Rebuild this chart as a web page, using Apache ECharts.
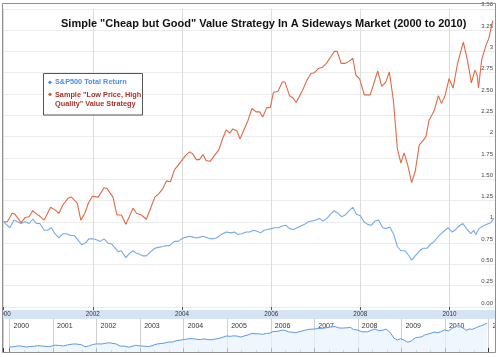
<!DOCTYPE html>
<html>
<head>
<meta charset="utf-8">
<script src="https://cdn.jsdelivr.net/npm/echarts@6/dist/echarts.min.js"></script>
<style>
html,body{margin:0;padding:0;background:#fff;}
#chart{width:499px;height:357px;}
</style>
</head>
<body>
<div id="chart"></div>
<script>
// ---- data ----
const chartTitle = 'Simple "Cheap but Good" Value Strategy In A Sideways Market (2000 to 2010)';
const seriesNames = ['S&P500 Total Return', 'Sample "Low Price, High Quality" Value Strategy'];
const legendLines = [['S&P500 Total Return'], ['Sample "Low Price, High', 'Quality" Value Strategy']];

const spDates = [2000.00,2000.14,2000.23,2000.39,2000.48,2000.57,2000.65,2000.74,2000.81,2000.91,2000.98,
  2001.07,2001.15,2001.24,2001.33,2001.41,2001.50,2001.58,2001.66,2001.75,2001.83,2001.91,
  2002.00,2002.08,2002.16,2002.25,2002.34,2002.42,2002.50,2002.57,2002.64,2002.74,2002.82,2002.90,2002.98,
  2003.05,2003.13,2003.20,2003.30,2003.39,2003.47,2003.57,2003.65,2003.72,2003.83,2003.91,
  2004.02,2004.10,2004.17,2004.25,2004.32,2004.40,2004.47,2004.58,2004.67,2004.77,2004.88,2004.99,
  2005.10,2005.18,2005.25,2005.33,2005.44,2005.52,2005.60,2005.68,2005.76,2005.84,2005.92,
  2006.00,2006.08,2006.16,2006.25,2006.33,2006.41,2006.50,2006.58,2006.66,2006.75,2006.83,2006.91,
  2007.00,2007.08,2007.16,2007.25,2007.33,2007.41,2007.50,2007.58,2007.66,2007.75,2007.83,2007.91,
  2008.00,2008.08,2008.16,2008.25,2008.33,2008.41,2008.50,2008.58,2008.66,2008.75,2008.83,2008.91,
  2009.00,2009.08,2009.15,2009.23,2009.33,2009.41,2009.50,2009.58,2009.66,2009.75,2009.83,2009.92,2009.97,
  2010.06,2010.14,2010.21,2010.30,2010.38,2010.48,2010.54,2010.59,2010.66,2010.75,2010.84,2010.92,2011.00];
const spValues = [1.00,0.93,1.02,0.98,1.00,0.98,1.03,0.98,0.98,0.90,0.90,
  0.93,0.86,0.81,0.86,0.86,0.84,0.84,0.79,0.73,0.75,0.80,
  0.80,0.79,0.77,0.80,0.75,0.74,0.69,0.65,0.66,0.58,0.63,0.66,0.63,
  0.62,0.60,0.60,0.65,0.69,0.70,0.71,0.72,0.72,0.77,0.77,
  0.81,0.82,0.83,0.82,0.81,0.82,0.83,0.81,0.80,0.81,0.85,0.88,
  0.87,0.88,0.85,0.86,0.88,0.88,0.90,0.89,0.87,0.90,0.91,
  0.92,0.93,0.93,0.95,0.96,0.92,0.91,0.93,0.95,0.97,1.00,1.01,
  1.02,1.04,1.01,1.04,1.09,1.13,1.10,1.06,1.08,1.13,1.17,1.09,
  1.07,1.00,0.97,0.96,1.01,1.02,0.93,0.92,0.94,0.85,0.71,0.66,
  0.66,0.61,0.55,0.60,0.66,0.69,0.69,0.74,0.77,0.83,0.87,0.91,0.93,
  0.88,0.91,0.95,0.98,0.92,0.86,0.90,0.85,0.92,0.95,0.97,0.99,1.04];

const strategyDates = [2000.00,2000.08,2000.19,2000.25,2000.39,2000.48,2000.57,2000.65,2000.74,2000.80,2000.91,
  2001.05,2001.15,2001.24,2001.33,2001.45,2001.52,2001.65,2001.73,2001.82,2001.90,2001.99,
  2002.12,2002.25,2002.32,2002.45,2002.54,2002.64,2002.74,2002.90,2002.98,
  2003.09,2003.20,2003.24,2003.39,2003.48,2003.57,2003.65,2003.74,2003.83,2003.98,
  2004.08,2004.17,2004.24,2004.32,2004.39,2004.47,2004.54,2004.63,2004.73,2004.83,2004.90,2004.99,
  2005.07,2005.14,2005.23,2005.30,2005.39,2005.48,2005.51,2005.57,2005.66,2005.74,2005.81,2005.90,2005.98,
  2006.05,2006.15,2006.25,2006.31,2006.41,2006.48,2006.56,2006.71,2006.80,2006.89,2006.97,
  2007.06,2007.14,2007.24,2007.34,2007.42,2007.48,2007.57,2007.66,2007.74,2007.83,2007.90,2007.98,
  2008.09,2008.22,2008.26,2008.39,2008.48,2008.57,2008.65,2008.74,2008.83,2008.91,2008.98,
  2009.06,2009.15,2009.23,2009.32,2009.40,2009.47,2009.54,2009.66,2009.75,2009.82,2009.90,2009.99,
  2010.08,2010.18,2010.31,2010.40,2010.49,2010.57,2010.62,2010.65,2010.72,2010.81,2010.88,2010.97];
const strategyValues = [1.00,1.00,1.10,1.09,0.99,1.05,1.06,1.13,1.09,1.07,1.02,
  1.17,1.14,1.10,1.20,1.28,1.29,1.22,1.02,1.10,1.22,1.30,
  1.29,1.40,1.39,1.29,1.08,1.08,0.97,1.16,1.10,
  1.08,1.03,1.03,1.29,1.33,1.39,1.48,1.47,1.61,1.71,
  1.78,1.82,1.80,1.73,1.73,1.79,1.72,1.71,1.78,1.85,1.96,2.08,
  2.04,2.09,2.07,1.97,2.08,2.19,2.24,2.33,2.29,2.29,2.23,2.34,2.34,
  2.52,2.53,2.64,2.64,2.48,2.46,2.40,2.55,2.66,2.74,2.75,
  2.80,2.81,2.86,2.94,3.00,3.00,2.86,2.86,2.88,2.92,2.72,2.68,
  2.49,2.49,2.49,2.77,2.59,2.64,2.76,2.43,1.86,1.69,1.81,
  1.67,1.46,1.59,1.90,1.95,2.00,2.19,2.31,2.48,2.39,2.48,2.68,
  2.57,2.86,3.11,2.90,2.63,2.78,2.72,2.57,2.90,3.06,3.15,3.36];

const yTickLabels = ['0.00','0.25','0.50','0.75','1','1.25','1.50','1.75','2','2.25','2.50','2.75','3','3.25','3.50'];

// ---- chart ----
const FONT = 'Liberation Sans, Arial, sans-serif';
const spColor = '#74aaec';
const stColor = '#e06a45';
const zip = (xs, ys) => xs.map((x, i) => [x, ys[i]]);

const chart = echarts.init(document.getElementById('chart'), null, {renderer: 'canvas'});

const LZ = 60;
const legendGraphic = {
  type: 'group', left: 43, top: 73, z: LZ,
  children: [
    {type: 'rect', z: LZ, shape: {x: 0.5, y: 0.5, width: 99, height: 41.5}, style: {fill: '#fff', stroke: '#555', lineWidth: 1}},
    {type: 'circle', z: LZ + 1, shape: {cx: 7, cy: 9.3, r: 1.6}, style: {fill: '#4a8ee8'}},
    {type: 'text', z: LZ + 1, x: 12, y: 9.3, style: {text: legendLines[0].join('\n'), fill: '#4a8ee8', font: 'bold 7.3px ' + FONT, verticalAlign: 'middle'}},
    {type: 'circle', z: LZ + 1, shape: {cx: 7, cy: 21.3, r: 1.6}, style: {fill: '#e05a2a'}},
    {type: 'text', z: LZ + 1, x: 12, y: 16.8, style: {text: legendLines[1].join('\n'), fill: '#a8322a', font: 'bold 7.3px ' + FONT, verticalAlign: 'top', lineHeight: 9.7}}
  ]
};

const option = {
  backgroundColor: '#fff',
  animation: false,
  title: {
    text: chartTitle, left: 61, top: 18, padding: 0, z: 70,
    textStyle: {fontSize: 11, fontWeight: 'bold', color: '#111', fontFamily: FONT}
  },
  grid: [
    {left: 3.7, right: 4, top: 8.8, height: 298.2, containLabel: false, outerBoundsMode: 'none'},
    {left: 3, right: 4, top: 319, height: 33, containLabel: false, outerBoundsMode: 'none'}
  ],
  xAxis: [
    {
      type: 'value', gridIndex: 0, min: 2000, max: 2011.02, interval: 2, position: 'bottom',
      axisLine: {show: false},
      axisTick: {show: true, length: 3, lineStyle: {color: '#555'}},
      axisLabel: {fontSize: 6.3, color: '#333', margin: 4, fontFamily: FONT, showMaxLabel: false,
        showMinLabel: true, alignMinLabel: 'center', hideOverlap: false,
        formatter: v => String(Math.round(v))},
      splitLine: {show: true, lineStyle: {color: '#dcdcdc', width: 1}}
    },
    {
      type: 'value', gridIndex: 1, min: 1999.85, max: 2011.15, splitNumber: 11, minInterval: 1, maxInterval: 1,
      position: 'top',
      axisLine: {show: false}, axisTick: {show: false},
      axisLabel: {inside: true, fontSize: 7, color: '#333', margin: 4, align: 'left', verticalAlign: 'top',
        padding: [0, 0, 0, 4], fontFamily: FONT, showMinLabel: false, showMaxLabel: false, hideOverlap: false,
        formatter: v => (Math.abs(v - Math.round(v)) < 1e-6 ? String(Math.round(v)) : '')},
      splitLine: {show: true, lineStyle: {color: '#cfcfcf', width: 1}}
    },
    {
      type: 'value', gridIndex: 1, min: 1999.85, max: 2011.15, splitNumber: 11, minInterval: 1, maxInterval: 1,
      position: 'bottom',
      axisLine: {show: false},
      axisTick: {show: true, inside: true, length: 4, lineStyle: {color: '#333'}},
      minorTick: {show: true, splitNumber: 3, length: 2, lineStyle: {color: '#999'}},
      axisLabel: {show: false}, splitLine: {show: false}
    }
  ],
  yAxis: [
    {
      type: 'value', gridIndex: 0, min: 0, max: 3.5, interval: 0.25, position: 'right',
      axisLine: {show: false}, axisTick: {show: false},
      axisLabel: {inside: true, fontSize: 6, color: '#444', margin: 2, verticalAlign: 'bottom',
        padding: [0, 0, 1, 0], fontFamily: FONT, hideOverlap: false,
        formatter: v => yTickLabels[Math.round(v / 0.25)]},
      splitLine: {show: true, lineStyle: {color: '#ececec', width: 1}}
    },
    {type: 'value', gridIndex: 1, min: 0.5, max: 3.75, show: false}
  ],
  series: [
    {name: seriesNames[0], type: 'line', xAxisIndex: 0, yAxisIndex: 0, data: zip(spDates, spValues),
      showSymbol: false, symbol: 'none', lineStyle: {color: spColor, width: 1.1}, z: 3},
    {name: seriesNames[1], type: 'line', xAxisIndex: 0, yAxisIndex: 0, data: zip(strategyDates, strategyValues),
      showSymbol: false, symbol: 'none', lineStyle: {color: stColor, width: 1.1}, z: 4},
    {name: 'overview', type: 'line', xAxisIndex: 1, yAxisIndex: 1, data: zip(strategyDates, strategyValues),
      showSymbol: false, symbol: 'none', lineStyle: {color: '#5c9ae0', width: 1},
      areaStyle: {color: '#e9f2fc', origin: 'start'}, z: 2}
  ],
  graphic: [
    {type: 'rect', z: -10, shape: {x: 3, y: 310, width: 492, height: 9}, style: {fill: '#d5e4f5'}},
    {type: 'rect', z: 100, shape: {x: 0, y: 0, width: 2.5, height: 357}, style: {fill: '#fff'}},
    {type: 'rect', z: 100, shape: {x: 496, y: 0, width: 3, height: 357}, style: {fill: '#fff'}},
    {type: 'rect', z: 101, shape: {x: 2.5, y: 3.5, width: 493, height: 349}, style: {fill: 'none', stroke: '#8f8f8f', lineWidth: 1}},
    legendGraphic
  ]
};
chart.setOption(option);
</script>
</body>
</html>
